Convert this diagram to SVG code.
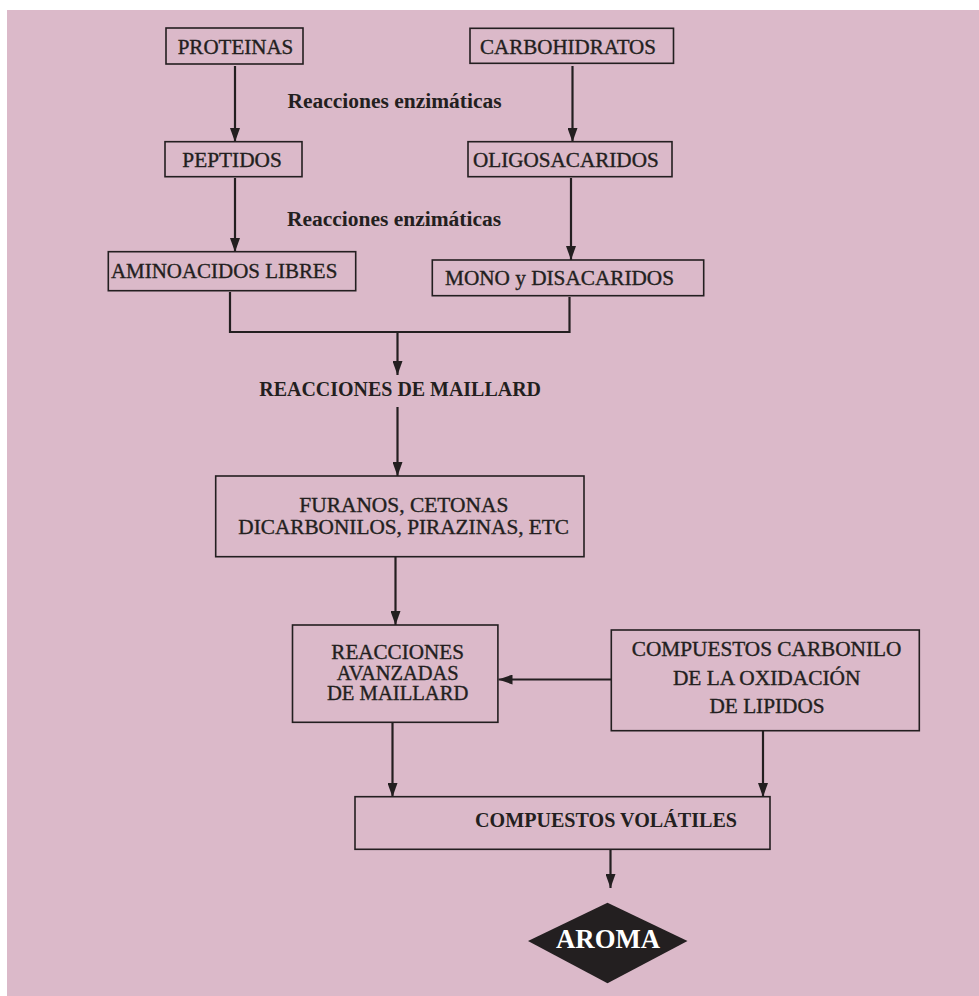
<svg xmlns="http://www.w3.org/2000/svg" width="979" height="996" viewBox="0 0 979 996">
<style>
.bg{fill:#dbb9c9}
.box{fill:none;stroke:#231f20;stroke-width:1.6}
.t{font-family:"Liberation Serif","Times New Roman",serif;font-size:20px;fill:#231f20;stroke:#231f20;stroke-width:0.35}
.b{font-weight:bold;stroke-width:0}
.c{text-anchor:middle}
.ln{fill:none;stroke:#231f20;stroke-width:2.2}
.ar{fill:none;stroke:#231f20;stroke-width:2.2;marker-end:url(#ah)}
.w{fill:#ffffff;font-size:27px;stroke-width:0}
</style>
<defs>
<marker id="ah" markerUnits="userSpaceOnUse" viewBox="0 0 14 10" refX="14" refY="5" markerWidth="14" markerHeight="10" orient="auto">
<path d="M0,0 L14,5 L0,10 Z" fill="#231f20"/>
</marker>
</defs>
<rect class="bg" x="7" y="10" width="972" height="986"/>

<g id="connectors">
<line class="ar" x1="235" y1="66" x2="235" y2="142"/>
<line class="ar" x1="572.5" y1="66" x2="572.5" y2="142"/>
<line class="ar" x1="235" y1="178" x2="235" y2="252"/>
<line class="ar" x1="571" y1="178" x2="571" y2="260"/>
<polyline class="ln" points="230,292 230,332 569.5,332 569.5,297"/>
<line class="ar" x1="397.5" y1="332" x2="397.5" y2="375"/>
<line class="ar" x1="397.5" y1="407" x2="397.5" y2="476"/>
<line class="ar" x1="395.5" y1="557" x2="395.5" y2="625"/>
<line class="ar" x1="611" y1="679.5" x2="498.5" y2="679.5"/>
<line class="ar" x1="392.5" y1="722" x2="392.5" y2="797"/>
<line class="ar" x1="763" y1="731" x2="763" y2="797"/>
<line class="ar" x1="610.5" y1="850" x2="610.5" y2="888"/>
</g>

<g id="proteinas">
<rect class="box" x="166" y="28" width="137" height="36"/>
<text class="t" x="177.7" y="54.3" textLength="115.6" lengthAdjust="spacingAndGlyphs">PROTEINAS</text>
</g>
<g id="carbohidratos">
<rect class="box" x="470" y="28.3" width="203.5" height="35"/>
<text class="t" x="480" y="54.3" textLength="176" lengthAdjust="spacingAndGlyphs">CARBOHIDRATOS</text>
</g>
<g id="label-enz-1">
<text class="t b" x="287.5" y="108" textLength="214" lengthAdjust="spacingAndGlyphs">Reacciones enzimáticas</text>
</g>
<g id="peptidos">
<rect class="box" x="165" y="141.7" width="137" height="35"/>
<text class="t" x="182.3" y="166.7" textLength="99.5" lengthAdjust="spacingAndGlyphs">PEPTIDOS</text>
</g>
<g id="oligosacaridos">
<rect class="box" x="468" y="141.7" width="204" height="35"/>
<text class="t" x="473" y="166.7" textLength="185.7" lengthAdjust="spacingAndGlyphs">OLIGOSACARIDOS</text>
</g>
<g id="label-enz-2">
<text class="t b" x="287" y="226" textLength="214" lengthAdjust="spacingAndGlyphs">Reacciones enzimáticas</text>
</g>
<g id="aminoacidos">
<rect class="box" x="108.3" y="251.7" width="247.4" height="39"/>
<text class="t" x="111" y="277.7" textLength="226.3" lengthAdjust="spacingAndGlyphs">AMINOACIDOS LIBRES</text>
</g>
<g id="mono">
<rect class="box" x="432.3" y="260" width="271.4" height="35.7"/>
<text class="t" x="445" y="285" textLength="229" lengthAdjust="spacingAndGlyphs">MONO y DISACARIDOS</text>
</g>
<g id="maillard">
<text class="t b" x="259.3" y="395.7" textLength="281.7" lengthAdjust="spacingAndGlyphs">REACCIONES DE MAILLARD</text>
</g>
<g id="furanos">
<rect class="box" x="215.7" y="476" width="368.3" height="80.7"/>
<text class="t" x="299.3" y="512.3" textLength="209" lengthAdjust="spacingAndGlyphs">FURANOS, CETONAS</text>
<text class="t" x="238.3" y="534.3" textLength="330.7" lengthAdjust="spacingAndGlyphs">DICARBONILOS, PIRAZINAS, ETC</text>
</g>
<g id="avanzadas">
<rect class="box" x="292.5" y="625" width="205.4" height="97.3"/>
<text class="t" x="331.3" y="659" textLength="132.6" lengthAdjust="spacingAndGlyphs">REACCIONES</text>
<text class="t" x="336.7" y="680" textLength="121.9" lengthAdjust="spacingAndGlyphs">AVANZADAS</text>
<text class="t" x="326.9" y="700" textLength="141.5" lengthAdjust="spacingAndGlyphs">DE MAILLARD</text>
</g>
<g id="carbonilo">
<rect class="box" x="611.3" y="630" width="308" height="100.7"/>
<text class="t" x="631.8" y="656" textLength="269.6" lengthAdjust="spacingAndGlyphs">COMPUESTOS CARBONILO</text>
<text class="t" x="672.9" y="685" textLength="187.5" lengthAdjust="spacingAndGlyphs">DE LA OXIDACIÓN</text>
<text class="t" x="709.5" y="713.3" textLength="115.1" lengthAdjust="spacingAndGlyphs">DE LIPIDOS</text>
</g>
<g id="volatiles">
<rect class="box" x="355" y="796.7" width="415" height="52.6"/>
<text class="t b" x="475" y="826.7" textLength="262" lengthAdjust="spacingAndGlyphs">COMPUESTOS VOLÁTILES</text>
</g>
<g id="aroma">
<polygon points="607.5,902.7 687.5,941 607.5,983.3 528,941" fill="#231f20"/>
<text class="t b w" x="556" y="948.3" textLength="104" lengthAdjust="spacingAndGlyphs">AROMA</text>
</g>
</svg>
